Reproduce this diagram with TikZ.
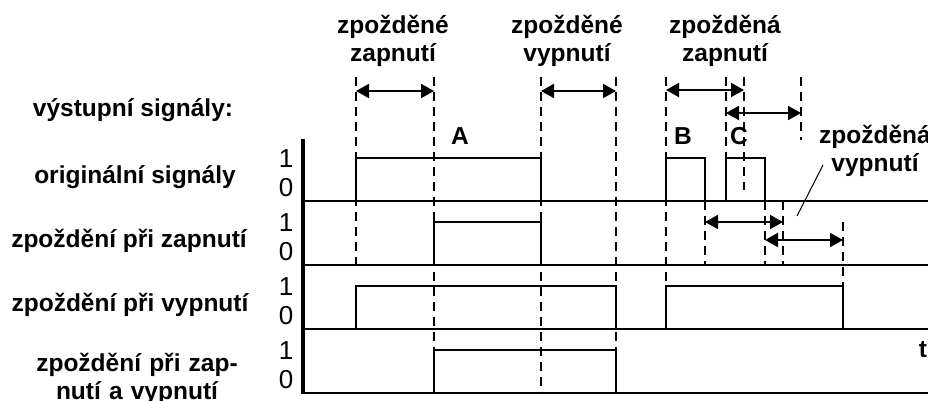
\documentclass[tikz,border=0pt]{standalone}
\usepackage{fontspec}
\setmainfont{Liberation Sans}
\usetikzlibrary{arrows.meta}
\begin{document}
\begin{tikzpicture}[x=1pt,y=-1pt,
  sig/.style={line width=2pt, line join=miter},
  baseln/.style={line width=2.4pt},
  axisln/.style={line width=3.2pt},
  dl/.style={line width=2pt, dash pattern=on 9pt off 6pt},
  dimarrow/.style={line width=2pt, {Triangle[length=13pt,width=14pt]}-{Triangle[length=13pt,width=14pt]}},
  lab/.style={font=\fontsize{24.5}{28}\selectfont\bfseries, inner sep=0pt, anchor=base},
  labtwo/.style={lab, text width=220pt, align=center},
  dig/.style={font=\fontsize{26}{28}\selectfont, inner sep=0pt, anchor=base},
]
\useasboundingbox (0,0) rectangle (928,401);

% dashed guide lines
\draw[dl] (356,77) -- (356,265);
\draw[dl] (434,77) -- (434,393);
\draw[dl] (541,77) -- (541,393);
\draw[dl] (616,77) -- (616,393);
\draw[dl] (666,77) -- (666,286);
\draw[dl] (726,77) -- (726,158);
\draw[dl] (744,77) -- (744,190);
\draw[dl] (801,77) -- (801,140);
\draw[dl] (705,201) -- (705,265);
\draw[dl] (765,201) -- (765,265);
\draw[dl] (783,201) -- (783,265);
\draw[dl] (843,222) -- (843,286);

% axes and baselines
\draw[axisln] (303,139) -- (303,393);
\draw[baseln] (303,201) -- (928,201);
\draw[baseln] (303,265) -- (928,265);
\draw[baseln] (303,329) -- (928,329);
\draw[baseln] (301.4,393) -- (928,393);

% signals
\draw[sig] (356,201) -- (356,158) -- (541,158) -- (541,201);
\draw[sig] (666,201) -- (666,158) -- (705,158) -- (705,201);
\draw[sig] (726,201) -- (726,158) -- (765,158) -- (765,201);
\draw[sig] (434,265) -- (434,222) -- (541,222) -- (541,265);
\draw[sig] (356,329) -- (356,286) -- (616,286) -- (616,329);
\draw[sig] (666,329) -- (666,286) -- (843,286) -- (843,329);
\draw[sig] (434,393) -- (434,350) -- (616,350) -- (616,393);

% dimension arrows
\coordinate (a1l) at (356,91);  \coordinate (a1r) at (434,91);
\coordinate (a2l) at (541,91);  \coordinate (a2r) at (616,91);
\coordinate (a3l) at (666,90);  \coordinate (a3r) at (744,90);
\coordinate (a4l) at (726,113); \coordinate (a4r) at (801,113);
\coordinate (a5l) at (705,222); \coordinate (a5r) at (783,222);
\coordinate (a6l) at (765,240); \coordinate (a6r) at (843,240);
\draw[dimarrow] (a1l) -- (a1r);
\draw[dimarrow] (a2l) -- (a2r);
\draw[dimarrow] (a3l) -- (a3r);
\draw[dimarrow] (a4l) -- (a4r);
\draw[dimarrow] (a5l) -- (a5r);
\draw[dimarrow] (a6l) -- (a6r);

% top labels
\node[labtwo] (tz)  at (393,34) {zpožděné\\zapnutí};
\node[labtwo] (tv)  at (567,34) {zpožděné\\vypnutí};
\node[labtwo] (tza) at (725,34) {zpožděná\\zapnutí};
\node[labtwo] (tva) at (875,143) {zpožděná\\vypnutí};
\coordinate (ld1) at (823,165);
\coordinate (ld2) at (797,216);
\draw[line width=1pt] (ld1) -- (ld2);

% letters
\node[lab] (lA) at (460,144) {A};
\node[lab] (lB) at (683,144) {B};
\node[lab] (lC) at (739,144) {C};
\node[lab] (lt) at (923,357) {t};

% left labels
\node[lab] (lout)  at (133,117) {výstupní signály:};
\node[lab] (lorig) at (135,183) {originální signály};
\node[lab] (lzp)   at (129,247) {zpoždění při zapnutí};
\node[lab] (lzv)   at (130,311) {zpoždění při vypnutí};
\node[labtwo] (lzpv) at (137,371) {zpoždění při zap-\\nutí a vypnutí};

% 1/0 digits
\foreach \b/\n in {201/a,265/b,329/c,393/d}{
  \node[dig] (one\n)  at (286,\b-34) {1};
  \node[dig] (zero\n) at (286,\b-5) {0};
}
\end{tikzpicture}
\end{document}
